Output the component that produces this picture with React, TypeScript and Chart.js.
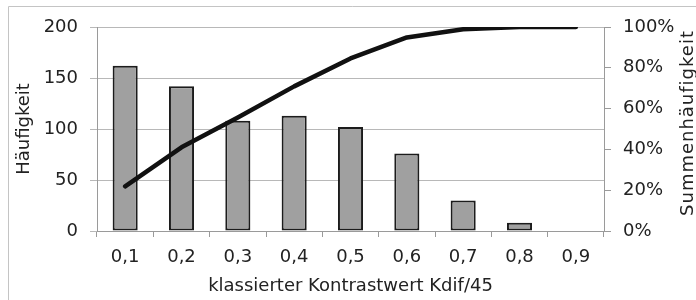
import { useEffect, useRef } from 'react';
import { Chart, registerables } from 'chart.js';

Chart.register(...registerables);

const categories = ['0,1', '0,2', '0,3', '0,4', '0,5', '0,6', '0,7', '0,8', '0,9'];
const frequencies = [162, 142, 108, 113, 102, 76, 30, 8, 0];
const cumulativePercent = [21.9, 41.0, 55.6, 70.9, 84.6, 94.9, 98.9, 100, 100];
const xTitle = 'klassierter Kontrastwert Kdif/45';
const yTitle = 'Häufigkeit';
const y1Title = 'Summenhäufigkeit';

const FONT = "'DejaVu Sans', 'Liberation Sans', sans-serif";
const TEXT = '#222222';
const GRID = '#b8b8b8';
const AXIS = '#9a9a9a';

const decor = {
  id: 'decor',
  beforeDraw(chart: any) {
    const ctx = chart.ctx;
    ctx.save();
    ctx.strokeStyle = '#c4c4c4';
    ctx.lineWidth = 1;
    ctx.beginPath();
    ctx.moveTo(8.5, 300);
    ctx.lineTo(8.5, 6.5);
    ctx.lineTo(696, 6.5);
    ctx.stroke();
    ctx.restore();
  },
  afterDraw(chart: any) {
    const ctx = chart.ctx;
    ctx.save();
    ctx.translate(688, 123);
    ctx.rotate(-Math.PI / 2);
    ctx.font = `18px ${FONT}`;
    try { (ctx as any).letterSpacing = '1px'; } catch (e) {}
    ctx.textAlign = 'center';
    ctx.textBaseline = 'middle';
    ctx.fillStyle = TEXT;
    ctx.fillText(y1Title, 0, 0);
    ctx.restore();
  },
};

export default function App() {
  const ref = useRef<HTMLCanvasElement | null>(null);
  useEffect(() => {
    if (!ref.current) return;
    const chart = new Chart(ref.current, {
      type: 'bar',
      data: {
        labels: categories,
        datasets: [
          {
            type: 'line',
            label: y1Title,
            data: cumulativePercent,
            yAxisID: 'y1',
            borderColor: '#111111',
            borderWidth: 4.5,
            borderCapStyle: 'round',
            borderJoinStyle: 'round',
            pointRadius: 0,
            fill: false,
            tension: 0,
            order: 0,
          } as any,
          {
            type: 'bar',
            label: yTitle,
            data: frequencies,
            yAxisID: 'y',
            backgroundColor: '#a0a0a0',
            borderColor: '#1c1c1c',
            borderWidth: 2,
            borderSkipped: false,
            barPercentage: 0.445,
            categoryPercentage: 1,
            order: 1,
          } as any,
        ],
      },
      options: {
        responsive: false,
        animation: false,
        devicePixelRatio: 1,
        layout: { padding: { top: 27, left: 0, right: 0, bottom: 0 } },
        plugins: { legend: { display: false }, tooltip: { enabled: false } },
        scales: {
          x: {
            afterFit: (s: any) => { s.height = 69; },
            grid: { drawOnChartArea: false, drawTicks: true, tickLength: 6, color: AXIS, offset: true },
            border: { color: AXIS, width: 1 },
            ticks: { font: { family: FONT, size: 18 }, color: TEXT, padding: 10, maxRotation: 0 },
            title: { display: true, text: xTitle, font: { family: FONT, size: 18 }, color: TEXT, padding: { top: 0, bottom: 3 } },
          },
          y: {
            position: 'left',
            min: 0,
            max: 200,
            afterFit: (s: any) => { s.width = 97; },
            grid: { color: GRID, tickLength: 7, drawTicks: true },
            border: { color: AXIS, width: 1 },
            ticks: { stepSize: 50, font: { family: FONT, size: 18 }, color: TEXT, padding: 12 },
            title: { display: true, text: yTitle, font: { family: FONT, size: 18 }, color: TEXT, padding: { top: 14, bottom: 0 } },
          },
          y1: {
            position: 'right',
            min: 0,
            max: 100,
            afterFit: (s: any) => { s.width = 92; },
            grid: { drawOnChartArea: false, color: AXIS, tickLength: 7, drawTicks: true },
            border: { color: AXIS, width: 1 },
            ticks: { stepSize: 20, font: { family: FONT, size: 18 }, color: TEXT, padding: 12, callback: (v: any) => `${v}%` },
          },
        },
      } as any,
      plugins: [decor],
    });
    return () => chart.destroy();
  }, []);
  return (
    <div style={{ position: 'fixed', left: 0, top: 0, width: 696, height: 300, background: '#fff' }}>
      <canvas ref={ref} width={696} height={300} style={{ display: 'block', width: 696, height: 300 }} />
    </div>
  );
}
